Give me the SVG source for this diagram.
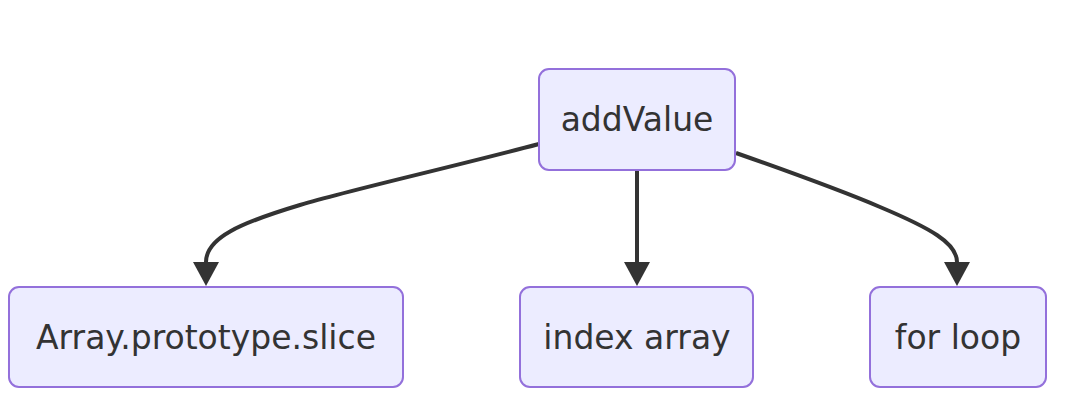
<svg xmlns="http://www.w3.org/2000/svg" width="1067" height="413" viewBox="0 0 1067 413">
<style>
.node rect{fill:#ECECFF;stroke:#9370DB;stroke-width:2}
.node text{font-family:"DejaVu Sans",sans-serif;font-size:33px;fill:#333;text-anchor:middle}
.edge{fill:none;stroke:#333;stroke-width:4}
</style>
<defs>
<marker id="arrow" markerUnits="userSpaceOnUse" markerWidth="26" markerHeight="26" viewBox="0 0 24 26" refX="0" refY="13" orient="auto">
<path d="M0,0 L24,13 L0,26 z" fill="#333"/>
</marker>
</defs>
<rect width="1067" height="413" fill="#fff"/>
<g id="edges">
<path class="edge" d="M539,144 C440,170 350,190 300,205 C240,223 206,238 206,262" marker-end="url(#arrow)"/>
<path class="edge" d="M637,170 L637,262" marker-end="url(#arrow)"/>
<path class="edge" d="M736,153 C790,172 840,190 880,207 C930,228 957,243 957,262" marker-end="url(#arrow)"/>
</g>
<g id="node-addValue" class="node">
<rect x="539" y="69" width="196" height="101" rx="10"/>
<text x="637" y="131">addValue</text>
</g>
<g id="node-slice" class="node">
<rect x="9" y="287" width="394" height="100" rx="10"/>
<text x="206" y="349">Array.prototype.slice</text>
</g>
<g id="node-index" class="node">
<rect x="520" y="287" width="233" height="100" rx="10"/>
<text x="637" y="349">index array</text>
</g>
<g id="node-for" class="node">
<rect x="870" y="287" width="176" height="100" rx="10"/>
<text x="958" y="349">for loop</text>
</g>
</svg>
